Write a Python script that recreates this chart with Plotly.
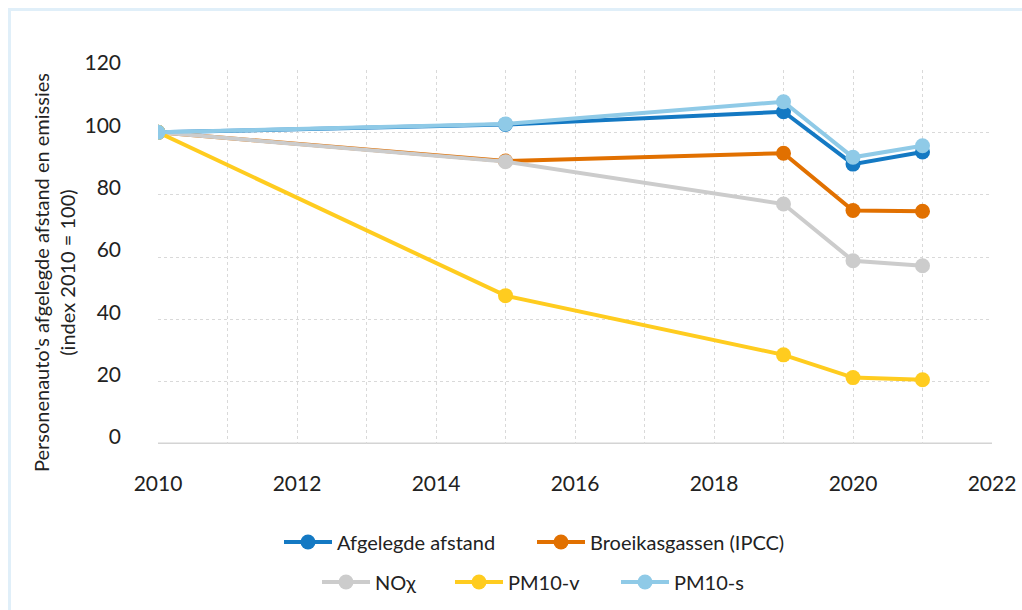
import plotly.graph_objects as go

years = [2010, 2015, 2019, 2020, 2021]
series_names = ["Afgelegde afstand", "Broeikasgassen (IPCC)", "NOχ", "PM10-v", "PM10-s"]
afgelegde = [100, 102.5, 106.6, 89.8, 93.7]
broeikas = [100, 90.8, 93.3, 74.9, 74.7]
nox = [100, 90.6, 77.0, 58.8, 57.2]
pm10_v = [100, 47.6, 28.6, 21.3, 20.6]
pm10_s = [100, 102.7, 109.8, 92.0, 95.7]
colors = ["#1479c3", "#e17000", "#cccccc", "#ffcc1f", "#8fcae7"]
x_ticks = [2010, 2012, 2014, 2016, 2018, 2020, 2022]
y_ticks = [0, 20, 40, 60, 80, 100, 120]
y_title = "Personenauto's afgelegde afstand en emissies<br>(index 2010 = 100)"

values = [afgelegde, broeikas, nox, pm10_v, pm10_s]
legend_ids = ["legend", "legend2", "legend3", "legend4", "legend5"]
# legend symbol start (px) and row centre (px)
legend_px = [(287, 542), (540, 542), (325, 582), (458, 582), (624, 582)]

W, H = 1022, 610
L, R, T, B = 158, 30, 70, 166
PW, PH = W - L - R, H - T - B


def px_x(px):
    return (px - L) / PW


def px_y(py):
    return (T + PH - py) / PH


FONT = "Lato"
fig = go.Figure()
for name, vals, col, lg in zip(series_names, values, colors, legend_ids):
    fig.add_trace(go.Scatter(
        x=years, y=vals, name=name, mode="lines+markers",
        line=dict(color=col, width=4),
        marker=dict(color=col, size=15),
        legend=lg,
    ))

grid = dict(showgrid=True, gridcolor="#d9d9d9", griddash="dot", gridwidth=1)
layout = dict(
    width=W, height=H,
    margin=dict(l=L, r=R, t=T, b=B, autoexpand=False),
    paper_bgcolor="white", plot_bgcolor="white",
    font=dict(family=FONT, size=21, color="#222222"),
    showlegend=True,
    xaxis=dict(
        range=[2010, 2022], tickvals=x_ticks, automargin=False,
        showline=False, zeroline=False, ticks="",
        ticklabelstandoff=25,
        minor=dict(dtick=1, **grid),
        **grid,
    ),
    yaxis=dict(
        range=[0, 120], tickvals=y_ticks, automargin=False,
        zeroline=False, showline=False, ticks="",
        ticklabelstandoff=36, ticklabelshift=-7,
        **grid,
    ),
)
for lg, (sx, sy) in zip(legend_ids, legend_px):
    layout[lg] = dict(orientation="h", x=px_x(sx - 8), xanchor="left",
                      y=px_y(sy), yanchor="middle", itemwidth=48,
                      font=dict(size=20), bgcolor="rgba(0,0,0,0)")
fig.update_layout(**layout)

fig.add_annotation(text=y_title, xref="paper", yref="paper",
                   x=px_x(54), y=px_y(273), xanchor="center", yanchor="middle",
                   textangle=-90, showarrow=False, font=dict(size=20))

# bottom axis line
fig.add_shape(type="line", xref="paper", yref="y", x0=0, x1=1, y0=0, y1=0,
              line=dict(color="#d4d4d4", width=3), layer="below")
# outer light blue frame
fig.add_shape(type="rect", xref="paper", yref="paper",
              x0=px_x(9.5), x1=1.2, y0=px_y(9.5), y1=-0.6,
              line=dict(color="#e0eff9", width=3), layer="below")

fig.write_html("out.html", config={"displayModeBar": False},
               post_script="document.body.style.margin='0';document.body.style.overflow='hidden';")
